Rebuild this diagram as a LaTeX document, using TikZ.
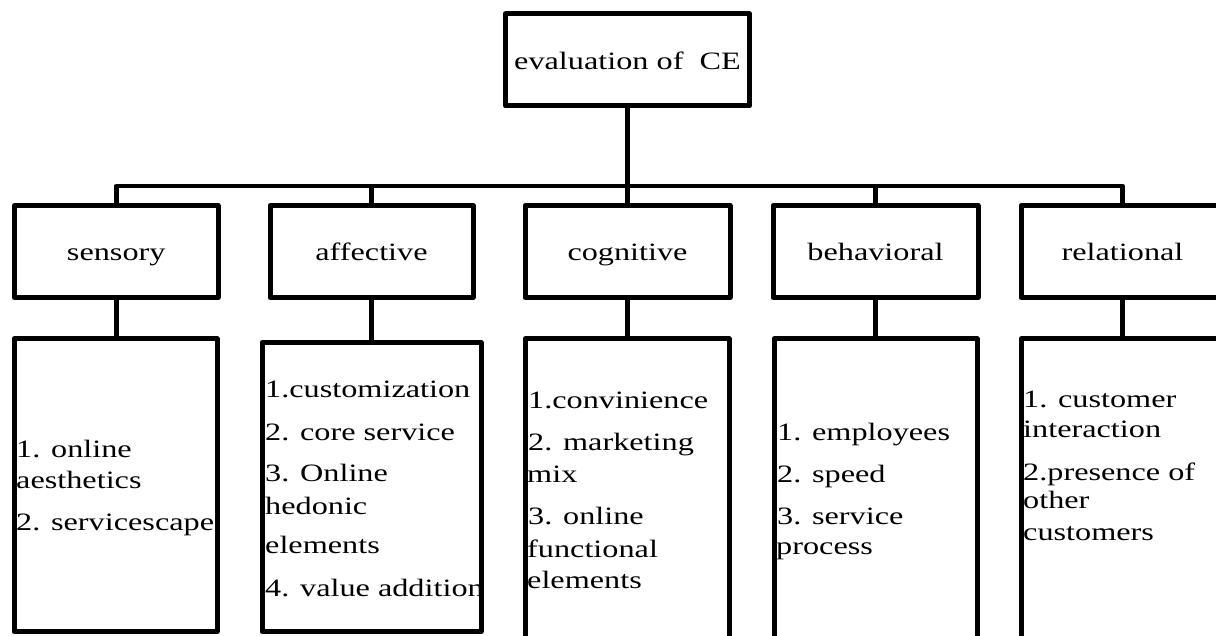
\documentclass[tikz,border=0pt]{standalone}
\usepackage{fontspec}
\setmainfont{Liberation Serif}[FakeStretch=1.29]
\begin{document}
\begin{tikzpicture}[x=1pt,y=-1pt,
  box/.style={draw=black,line width=5pt,line join=round,inner sep=0pt,outer sep=0pt,
    font=\fontsize{25}{31}\selectfont,text height=19pt,text depth=0pt},
  conn/.style={draw=black,line width=4.5pt},
  itm/.style={inner sep=0pt,anchor=base west,font=\fontsize{25}{31}\selectfont}]
\useasboundingbox[fill=white] (0,0) rectangle (1216,636);
\clip (0,0) rectangle (1216,636);
% top
\node[box,minimum width=244pt,minimum height=92pt] (top) at (627.5,60) {evaluation of\ \ CE};
% middle row
\node[box,minimum width=203.5pt,minimum height=92pt] (sen) at (116.25,251.5) {sensory};
\node[box,minimum width=203pt,minimum height=92pt] (aff) at (371.5,251.5) {affective};
\node[box,minimum width=205pt,minimum height=92pt] (cog) at (627.5,251.5) {cognitive};
\node[box,minimum width=205pt,minimum height=92pt] (beh) at (875.5,251.5) {behavioral};
\node[box,minimum width=203pt,minimum height=92pt] (rel) at (1122.5,251.5) {relational};
% bottom row
\node[box,minimum width=203pt,minimum height=292.7pt] (senb) at (115.5,485.35) {};
\node[box,minimum width=219pt,minimum height=289.2pt] (affb) at (371.5,487.1) {};
\node[box,minimum width=204pt,minimum height=341pt] (cogb) at (627,509.5) {};
\node[box,minimum width=203pt,minimum height=341pt] (behb) at (875.5,509.5) {};
\node[box,minimum width=204pt,minimum height=299.5pt] (relb) at (1123,488.75) {};
% connectors
\coordinate (bus) at (627.5,186);
\draw[conn] (top.south) -- (top.south |- cog.north);
\draw[conn,line join=round] (sen.north) |- (bus) -| (rel.north);
\draw[conn] (aff.north) -- (aff.north |- bus);
\draw[conn] (beh.north) -- (beh.north |- bus);
\draw[conn] (sen.south) -- (sen.south |- senb.north);
\draw[conn] (aff.south) -- (aff.south |- affb.north);
\draw[conn] (cog.south) -- (cog.south |- cogb.north);
\draw[conn] (beh.south) -- (beh.south |- behb.north);
\draw[conn] (rel.south) -- (rel.south |- relb.north);
% sensory items
\node[itm] (s1) at (16,457.7) {1. online};
\node[itm] (s2) at (16,488) {aesthetics};
\node[itm] (s3) at (16,530.7) {2. servicescape};
% affective items
\node[itm] (a1) at (265,397.3) {1.customization};
\node[itm] (a2) at (265,440) {2. core service};
\node[itm] (a3) at (265,481.7) {3. Online};
\node[itm] (a4) at (265,514.3) {hedonic};
\node[itm] (a5) at (265,553.3) {elements};
\node[itm] (a6) at (265,596.7) {4. value addition};
% cognitive items
\node[itm] (c1) at (528,408.3) {1.convinience};
\node[itm] (c2) at (528,450) {2. marketing};
\node[itm] (c3) at (527,482.3) {mix};
\node[itm] (c4) at (528,524) {3. online};
\node[itm] (c5) at (527,557.3) {functional};
\node[itm] (c6) at (527,588.3) {elements};
% behavioral items
\node[itm] (b1) at (777,440) {1. employees};
\node[itm] (b2) at (777,482.3) {2. speed};
\node[itm] (b3) at (777,524) {3. service};
\node[itm] (b4) at (776,554) {process};
% relational items
\node[itm] (r1) at (1023,407.3) {1. customer};
\node[itm] (r2) at (1023,437.3) {interaction};
\node[itm] (r3) at (1023,480) {2.presence of};
\node[itm] (r4) at (1023,508.3) {other};
\node[itm] (r5) at (1023,540) {customers};
\end{tikzpicture}
\end{document}
